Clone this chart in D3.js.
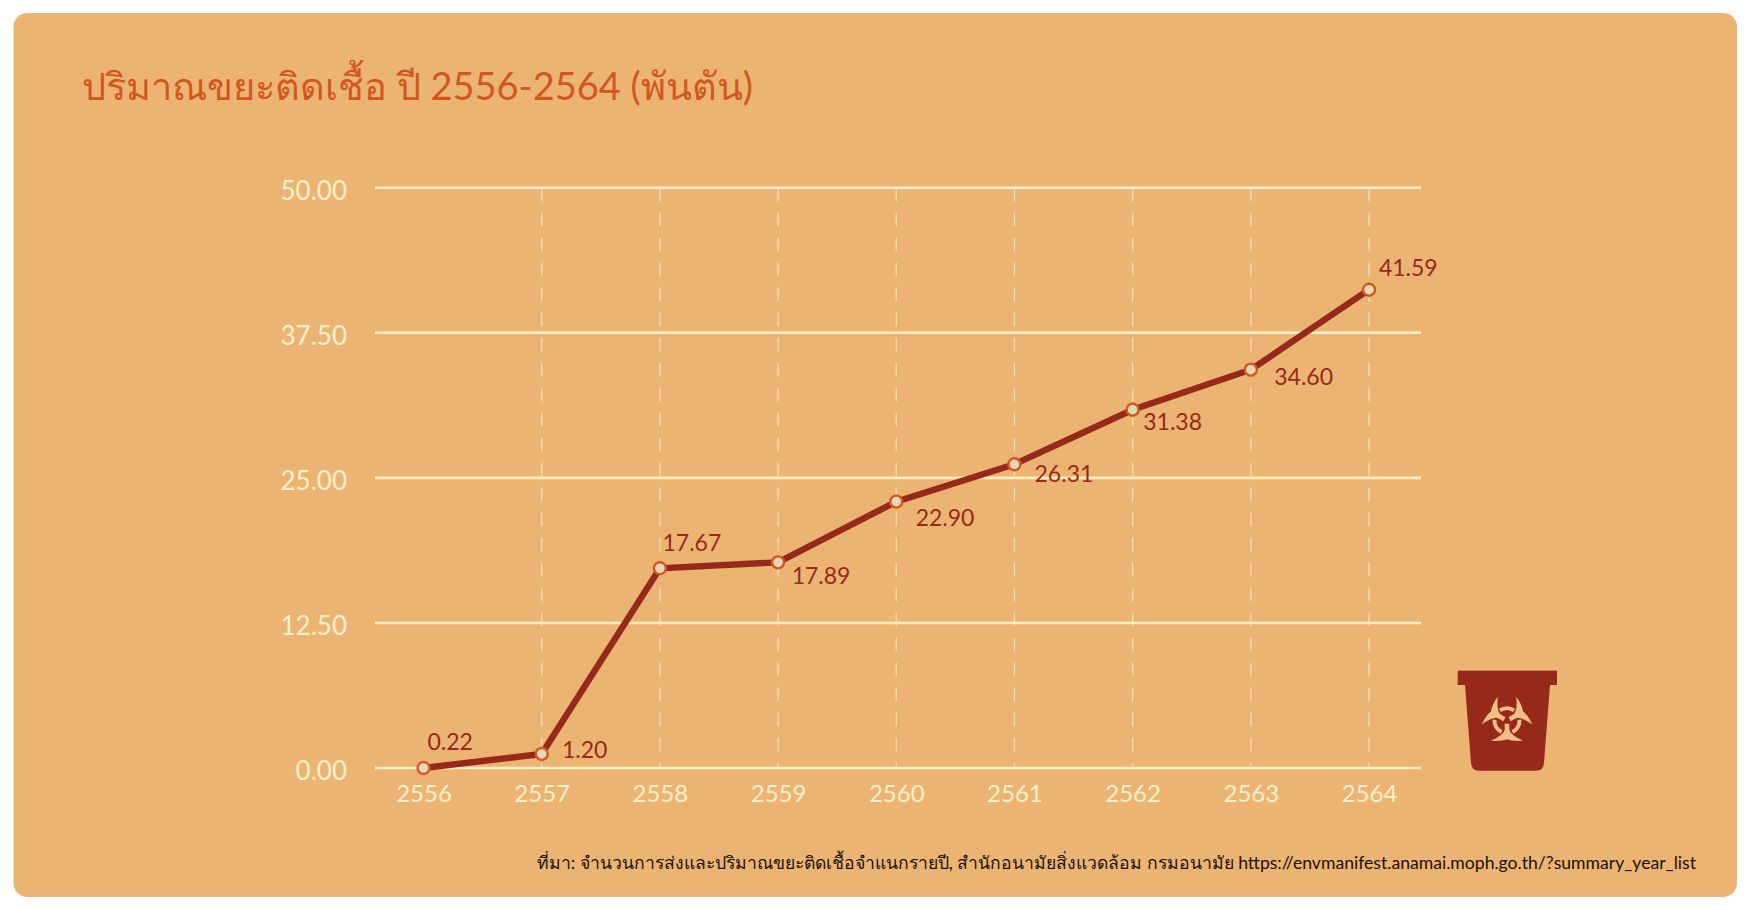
<!DOCTYPE html>
<html><head><meta charset="utf-8">
<script src="https://cdn.jsdelivr.net/npm/d3@7"></script>
<style>html,body{margin:0;padding:0;background:#fff;overflow:hidden}svg{display:block}text{font-family:"Lato","Noto Sans","Liberation Sans",sans-serif}</style>
</head><body><svg id="c" width="1750" height="910"></svg>
<script>
const titleText = "ปริมาณขยะติดเชื้อ ปี 2556-2564 (พันตัน)";
const sourceText = "ที่มา: จำนวนการส่งและปริมาณขยะติดเชื้อจำแนกรายปี, สำนักอนามัยสิ่งแวดล้อม กรมอนามัย https://envmanifest.anamai.moph.go.th/?summary_year_list";
const years = ["2556","2557","2558","2559","2560","2561","2562","2563","2564"];
// heights as drawn in the picture (the printed labels differ slightly from them)
const plotted = [0.00,1.21,17.21,17.72,22.95,26.17,30.87,34.32,41.21];
const valueLabels = ["0.22","1.20","17.67","17.89","22.90","26.31","31.38","34.60","41.59"];
const yTicks = [0,12.5,25,37.5,50];

const svg = d3.select("#c");
svg.append("rect").attr("x",13.5).attr("y",13).attr("width",1723.5).attr("height",884).attr("rx",14).attr("fill","#ECB473");

const x = d3.scalePoint().domain(years).range([423.5,1369]);
const y = d3.scaleLinear().domain([0,50]).range([768,187.7]);

svg.append("text").text(titleText).attr("x",82).attr("y",100).attr("font-size",38).attr("fill","#D2571E");

// vertical dashed grid
svg.append("g").selectAll("line").data(years.slice(1)).join("line")
  .attr("x1",d=>x(d)).attr("x2",d=>x(d)).attr("y1",y(50)).attr("y2",y(0))
  .attr("stroke","#F6DDB0").attr("stroke-width",1.3).attr("stroke-dasharray","13.5 11.5");

// horizontal grid
svg.append("g").selectAll("line").data(yTicks).join("line")
  .attr("x1",375).attr("x2",1421).attr("y1",d=>y(d)).attr("y2",d=>y(d))
  .attr("stroke","#FEEDC6").attr("stroke-width",2.6);

// axes (labels only)
const gy = svg.append("g").attr("transform","translate(347,0)")
  .call(d3.axisLeft(y).tickValues(yTicks).tickFormat(d3.format(".2f")).tickSize(0).tickPadding(0));
gy.select(".domain").remove();
gy.selectAll("text").attr("font-size",26).attr("fill","#FEF0CC").attr("dy","0.44em");

const gx = svg.append("g").attr("transform","translate(0,768)")
  .call(d3.axisBottom(x).tickSize(0).tickPadding(0));
gx.select(".domain").remove();
gx.selectAll("text").attr("font-size",24).attr("fill","#FEF0CC").attr("y",34.3).attr("dy",0);

// line
svg.append("path").datum(plotted)
  .attr("d",d3.line().x((d,i)=>x(years[i])).y(d=>y(d)))
  .attr("fill","none").attr("stroke","#97291B").attr("stroke-width",6.4);

// points
svg.append("g").selectAll("circle").data(plotted).join("circle")
  .attr("cx",(d,i)=>x(years[i])).attr("cy",d=>y(d)).attr("r",6)
  .attr("fill","#E6D7B8").attr("stroke","#D2571E").attr("stroke-width",2.4);

// value labels: placement around each point
const labelDx = [26.7,43,32,43,48.8,49.5,40,52.8,39.3];
const labelDy = [-18,4,-17.6,22,24,17.7,20.6,15,-13.7];
svg.append("g").selectAll("text").data(plotted).join("text")
  .text((d,i)=>valueLabels[i])
  .attr("x",(d,i)=>x(years[i])+labelDx[i])
  .attr("y",(d,i)=>y(d)+labelDy[i])
  .attr("text-anchor","middle")
  .attr("font-size",23).attr("fill","#97291B");

svg.append("text").text(sourceText).attr("x",1696).attr("y",869).attr("text-anchor","end").attr("font-size",17.6).attr("fill","#1a1208");

// biohazard bin icon
const icon = svg.append("g");
icon.append("path").attr("d","M1465,685 L1550,685 L1544,763 Q1543.500,770.700 1536,770.700 L1479,770.700 Q1471.500,770.700 1471,763 Z").attr("fill","#97291B");
icon.append("rect").attr("x",1457.7).attr("y",670.7).attr("width",99.3).attr("height",14.3).attr("fill","#97291B");
const bio = icon.append("g").attr("transform","translate(1507,720.7)").attr("fill","#F0BF86");
[0,120,240].forEach(a=>{
  const r = bio.append("g").attr("transform",`rotate(${a})`);
  r.append("path").attr("d","M-2.3,3 L-2.3,9 Q-3,14 -16,20 Q-6,21 0,18.5 Q6,21 16,20 Q3,14 2.3,9 L2.3,3 Z");
  r.append("path").attr("d",d3.arc()({innerRadius:10.5,outerRadius:14.5,startAngle:-0.6,endAngle:0.6}));
});
</script></body></html>
